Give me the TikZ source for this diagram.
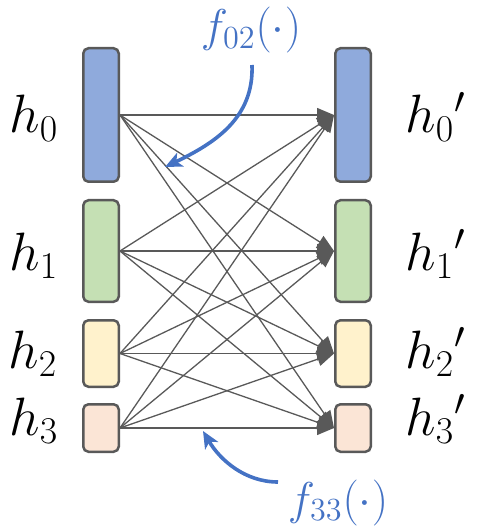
\documentclass[tikz,border=0pt]{standalone}
\usepackage{fix-cm}
\usetikzlibrary{arrows.meta}
\definecolor{boxline}{HTML}{595959}
\definecolor{conncol}{HTML}{595959}
\definecolor{fblue}{HTML}{8FAADC}
\definecolor{fgreen}{HTML}{C5E0B4}
\definecolor{fyellow}{HTML}{FFF2CC}
\definecolor{fpeach}{HTML}{FBE5D6}
\definecolor{accent}{HTML}{4472C4}
\tikzset{
  vbox/.style={draw=boxline, line width=1.25pt, rounded corners=2.6pt,
    minimum width=17.75pt, inner sep=0pt},
  conn/.style={draw=conncol, line width=0.65pt,
    -{Triangle[length=8.5pt,width=7pt]}},
  hlab/.style={inner sep=0pt, font=\fontsize{27}{31}\selectfont},
  flab/.style={inner sep=0pt, text=accent, font=\fontsize{23}{27}\selectfont},
  callout/.style={draw=accent, line width=1.8pt,
    -{Stealth[length=8.5pt,width=7.5pt,inset=2.2pt]}},
}
\begin{document}
\begin{tikzpicture}[x=0.5pt,y=-0.5pt]
\useasboundingbox (0,0) rectangle (479,529);
% left boxes
\node[vbox, fill=fblue,   minimum height=66.75pt] (L0) at (101,115) {};
\node[vbox, fill=fgreen,  minimum height=50.75pt] (L1) at (101,251) {};
\node[vbox, fill=fyellow, minimum height=33.25pt] (L2) at (101,353.5) {};
\node[vbox, fill=fpeach,  minimum height=23.75pt] (L3) at (101,428) {};
% right boxes
\node[vbox, fill=fblue,   minimum height=66.75pt] (R0) at (353,115) {};
\node[vbox, fill=fgreen,  minimum height=50.75pt] (R1) at (353,251) {};
\node[vbox, fill=fyellow, minimum height=33.25pt] (R2) at (353,353.5) {};
\node[vbox, fill=fpeach,  minimum height=23.75pt] (R3) at (353,428) {};
% connectors
\foreach \i in {0,1,2,3}{
  \foreach \j in {0,1,2,3}{
    \draw[conn] (L\i.east) -- (R\j.west);
  }
}
% labels
\node[hlab, anchor=base west] (hL0) at (9,133) {$h_0$};
\node[hlab, anchor=base west] (hL1) at (9,270) {$h_1$};
\node[hlab, anchor=base west] (hL2) at (8,368) {$h_2$};
\node[hlab, anchor=base west] (hL3) at (9,435) {$h_3$};
\node[hlab, anchor=base west] (hR0) at (405,133) {$h_0{}'$};
\node[hlab, anchor=base west] (hR1) at (405,270) {$h_1{}'$};
\node[hlab, anchor=base west] (hR2) at (405,368) {$h_2{}'$};
\node[hlab, anchor=base west] (hR3) at (405,435) {$h_3{}'$};
% function labels
\node[flab, anchor=base] (f02) at (251,42) {$f_{02}(\cdot)$};
\node[flab, anchor=base] (f33) at (338,514) {$f_{33}(\cdot)$};
% callout arrows
\coordinate (c02s) at (252,65);
\coordinate (c02e) at (165,167);
\coordinate (c33s) at (278,482);
\coordinate (c33e) at (203,431);
\draw[callout] (c02s) .. controls (254,118) and (215,143) .. (c02e);
\draw[callout] (c33s) .. controls (245,482) and (220,460) .. (c33e);
\end{tikzpicture}
\end{document}
